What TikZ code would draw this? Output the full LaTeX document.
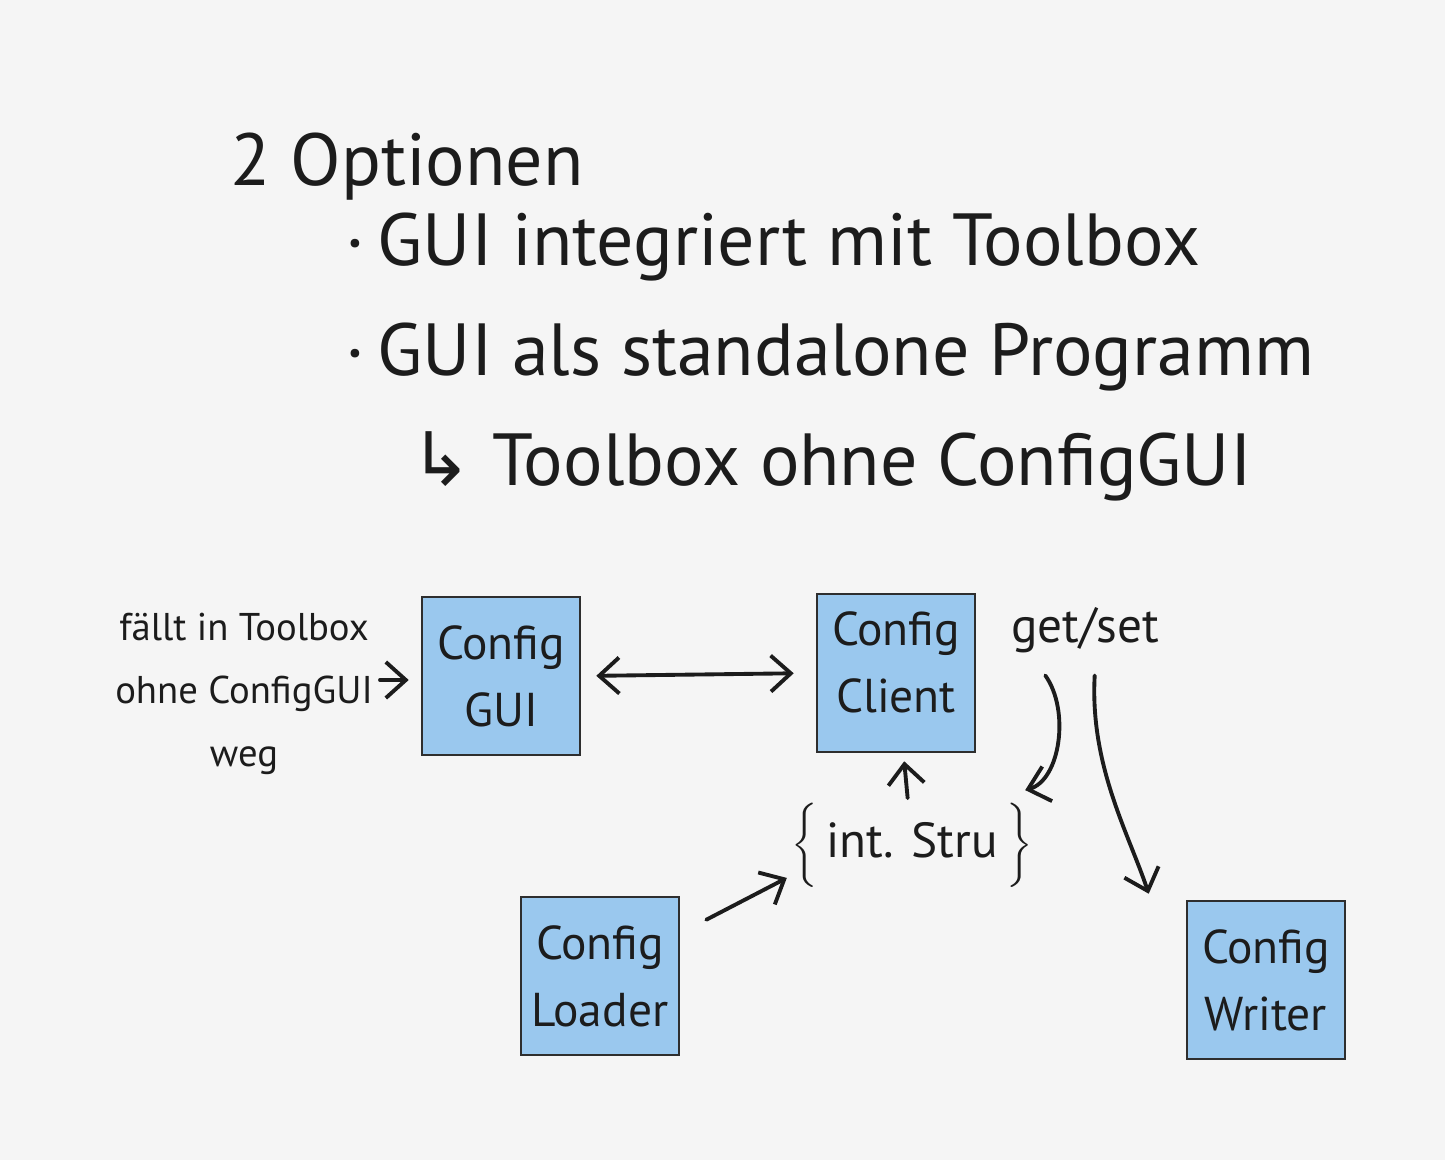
\documentclass[tikz,border=0pt]{standalone}
\usepackage{fontspec}
\setmainfont{PT Sans}
\newfontfamily\symfont{DejaVu Sans}
\usepackage{tikz}
\usetikzlibrary{calc}
\usetikzlibrary{arrows.meta}
\definecolor{BgSketch}{HTML}{F5F5F5}
\definecolor{BoxBlau}{HTML}{9AC8EE}
\definecolor{BoxRand}{HTML}{2E2E2E}
\definecolor{Tinte}{HTML}{1C1C1C}

\begin{document}
\begin{tikzpicture}[
  x=0.01cm, y=-0.01cm,
  >={Straight Barb[length=2mm, width=3.6mm]},
  ink/.style={text=Tinte, inner sep=0pt},
  headline/.style={ink, anchor=base west, font=\fontsize{21}{25}\selectfont},
  scribble/.style={ink, font=\fontsize{11}{18}\selectfont, align=center},
  cfgbox/.style={draw=BoxRand, fill=BoxBlau, line width=.7pt, inner sep=1pt,
      minimum width=1.58cm, minimum height=1.58cm, align=center,
      text=Tinte, font=\fontsize{13.5}{19}\selectfont},
  pen/.style={draw=Tinte, line width=1.1pt, line cap=round}
]
  \useasboundingbox (0,0) rectangle (1445,1160);
  \fill[BgSketch] (0,0) rectangle (1445,1160);

  \node[headline] (optionen) at (230,185) {2 Optionen};
  \node[headline] (optgui) at (345,265) {·\,GUI integriert mit Toolbox};
  \node[headline] (optstand) at (345,375) {·\,GUI als standalone Programm};
  \node[headline] (optfolge) at (410,485) {{\symfont ↳} Toolbox ohne ConfigGUI};

  % Komponenten
  \node[cfgbox] (cfggui) at (501,676) {Config\\GUI};
  \node[cfgbox] (cfgclient) at (896,673) {\raisebox{-.05cm}[0pt][0pt]{%
      \begin{tabular}{@{}c@{}}Config\\Client\end{tabular}}};
  \node[cfgbox] (cfgloader) at (600,976) {Config\\Loader};
  \node[cfgbox] (cfgwriter) at (1266,980) {Config\\Writer};

\begin{scope}[scribble]
  \node[anchor=north] (dropnote) at (244,612) {fällt in Toolbox\\ohne ConfigGUI\\weg};
  \node (getset) at (1085,630) {\fontsize{14}{17}\selectfont get/set};
  \node (intstru) at (912,845) {\fontsize{14}{17}\selectfont$\bigg\{$\,int. Stru\,$\bigg\}$};
\end{scope}

  \coordinate (dropend) at (380,680);
  \draw[pen, ->, shorten >=.12cm] (dropend) -- (cfggui.west |- dropend);
  \draw[pen, <->, shorten <=.15cm, shorten >=.22cm] (cfggui.east) -- (cfgclient.west);
  \draw[pen, ->, shorten <=.04cm, shorten >=.08cm] (intstru) -- (cfgclient);
  \draw[pen, ->] ($(cfgloader.north east)+(26,24)$) -- ($(intstru.south west)+(-4,-10)$);
  \draw[pen, ->] ($(getset.south west)+(35,22)$) .. controls +(25,35) and +(35,-10) .. ($(intstru.north east)+(-8,-12)$);
  \draw[pen, ->] ($(getset.south east)+(-65,22)$) .. controls +(-5,90) and +(-20,-60) .. ($(cfgwriter.north west)+(-37,-6)$);

\end{tikzpicture}
\end{document}
